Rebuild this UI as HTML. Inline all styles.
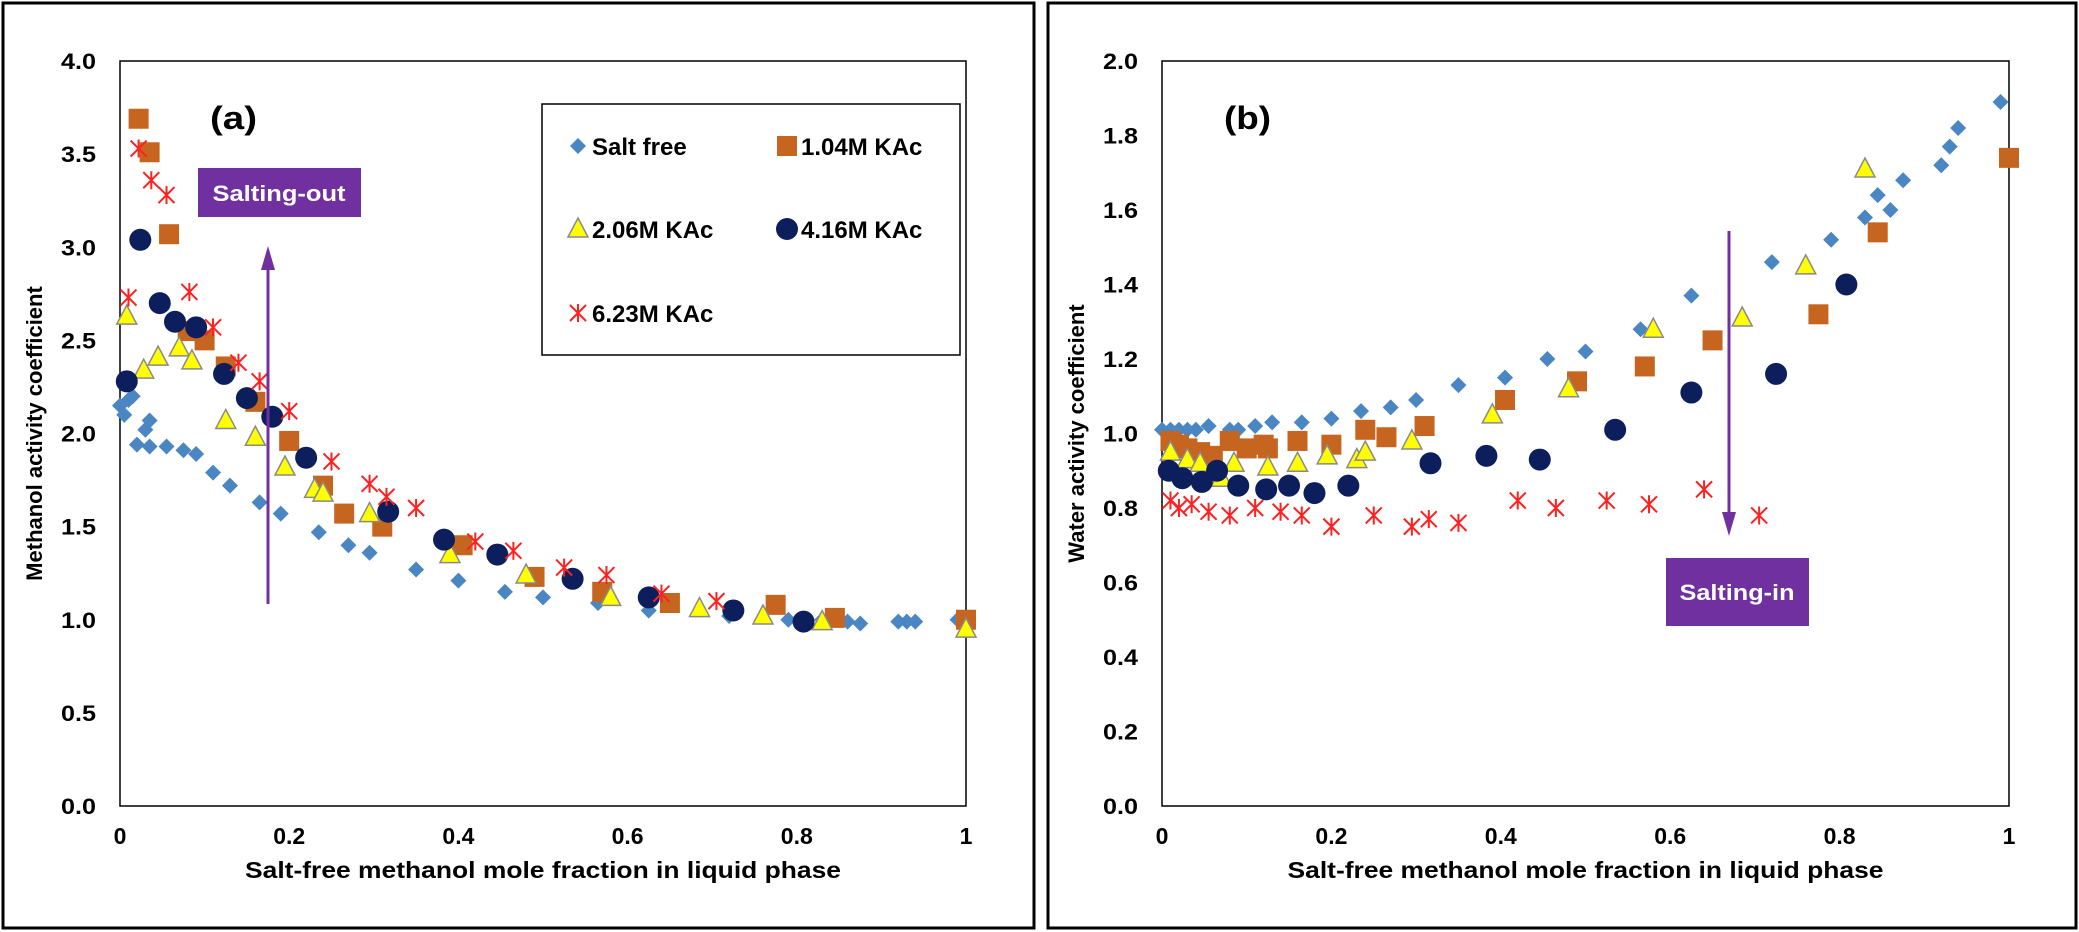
<!DOCTYPE html>
<html><head><meta charset="utf-8"><style>
html,body{margin:0;padding:0;background:#fff;}
svg{display:block;font-family:"Liberation Sans",Arial,sans-serif;font-weight:bold;}
</style></head><body>
<svg id="s" width="2079" height="932" viewBox="0 0 2079 932" xmlns="http://www.w3.org/2000/svg">
<rect x="3" y="3" width="1031" height="925" fill="none" stroke="#000" stroke-width="3"/>
<rect x="1048" y="3" width="1028" height="925" fill="none" stroke="#000" stroke-width="3"/>
<g id="g"></g>
</svg>
<script>
const NS="http://www.w3.org/2000/svg",g=document.getElementById('g');
function el(t,a,txt){const e=document.createElementNS(NS,t);for(const k in a)e.setAttribute(k,a[k]);if(txt!==undefined)e.textContent=txt;g.appendChild(e);return e;}
function marker(type,cx,cy){
 if(type==0){el('polygon',{points:`${cx},${cy-8} ${cx+8},${cy} ${cx},${cy+8} ${cx-8},${cy}`,fill:'#4a86c2'});}
 else if(type==1){el('rect',{x:cx-10,y:cy-10,width:20,height:20,fill:'#c5651f'});}
 else if(type==2){el('polygon',{points:`${cx},${cy-11} ${cx+10},${cy+8} ${cx-10},${cy+8}`,fill:'#ffff00',stroke:'#8a8a8a','stroke-width':1.5});}
 else if(type==3){el('circle',{cx:cx,cy:cy,r:11,fill:'#0c1f5c'});}
 else {const r=8;el('path',{d:`M${cx-r},${cy-r}L${cx+r},${cy+r}M${cx+r},${cy-r}L${cx-r},${cy+r}M${cx},${cy-r-1}L${cx},${cy+r+1}`,stroke:'#ff2020','stroke-width':2,fill:'none'});}
}
function panel(x0,x1,yt,yb,ymax,step,ylabel,tag,data){
 el('rect',{x:x0,y:yt,width:x1-x0,height:yb-yt,fill:'none',stroke:'#000','stroke-width':1.5});
 const n=Math.round(ymax/step);
 for(let i=0;i<=n;i++){const v=i*step,y=yb-(yb-yt)*v/ymax;el('text',{x:x0-24,y:y+8,'text-anchor':'end','font-size':22,textLength:35,lengthAdjust:'spacingAndGlyphs'},v.toFixed(1));}
 ['0','0.2','0.4','0.6','0.8','1'].forEach((t,i)=>{el('text',{x:x0+(x1-x0)*i/5,y:yb+38,'text-anchor':'middle','font-size':23},t);});
 el('text',{x:(x0+x1)/2,y:yb+72,'text-anchor':'middle','font-size':23,textLength:596,lengthAdjust:'spacingAndGlyphs'},'Salt-free methanol mole fraction in liquid phase');
 const cy=(yt+yb)/2;el('text',{x:x0-78,y:cy,'text-anchor':'middle','font-size':22,transform:`rotate(-90 ${x0-78} ${cy})`},ylabel);
 el('text',{x:x0+(tag=='(a)'?90:62),y:yt+68,'font-size':32,textLength:47,lengthAdjust:'spacingAndGlyphs'},tag);
 const X=v=>x0+(x1-x0)*v,Y=v=>yb-(yb-yt)*v/ymax;
 data.forEach((s,t)=>{for(let i=0;i<s.length;i+=2)marker(t,X(s[i]),Y(s[i+1]));});
}
const A=[
[0,2.15,0.005,2.1,0.01,2.18,0.015,2.2,0.02,1.94,0.03,2.02,0.035,2.07,0.035,1.93,0.055,1.93,0.075,1.91,0.09,1.89,0.11,1.79,0.13,1.72,0.165,1.63,0.19,1.57,0.235,1.47,0.27,1.4,0.295,1.36,0.35,1.27,0.4,1.21,0.455,1.15,0.5,1.12,0.565,1.09,0.625,1.05,0.72,1.02,0.79,1.0,0.83,1.0,0.86,0.99,0.875,0.98,0.92,0.99,0.93,0.99,0.94,0.99,0.99,1.0],
[0.022,3.69,0.035,3.51,0.058,3.07,0.08,2.55,0.1,2.5,0.125,2.36,0.16,2.17,0.2,1.96,0.24,1.72,0.265,1.57,0.31,1.5,0.405,1.4,0.49,1.23,0.57,1.15,0.65,1.09,0.775,1.08,0.845,1.01,1.0,1.0],
[0.008,2.63,0.028,2.34,0.045,2.41,0.07,2.46,0.085,2.39,0.125,2.07,0.16,1.98,0.195,1.82,0.23,1.7,0.24,1.68,0.295,1.57,0.39,1.35,0.48,1.24,0.58,1.12,0.685,1.06,0.76,1.02,0.83,0.99,1.0,0.95],
[0.008,2.28,0.024,3.04,0.047,2.7,0.065,2.6,0.09,2.57,0.123,2.32,0.15,2.19,0.18,2.09,0.22,1.87,0.317,1.58,0.383,1.43,0.446,1.35,0.535,1.22,0.625,1.12,0.725,1.05,0.808,0.99],
[0.01,2.73,0.022,3.53,0.037,3.36,0.055,3.28,0.082,2.76,0.11,2.57,0.14,2.38,0.165,2.28,0.2,2.12,0.25,1.85,0.295,1.73,0.315,1.66,0.35,1.6,0.42,1.42,0.465,1.37,0.525,1.28,0.575,1.24,0.64,1.14,0.705,1.1]];
const B=[
[0,1.01,0.01,1.01,0.02,1.01,0.03,1.01,0.04,1.01,0.055,1.02,0.08,1.01,0.09,1.01,0.11,1.02,0.13,1.03,0.165,1.03,0.2,1.04,0.235,1.06,0.27,1.07,0.3,1.09,0.35,1.13,0.405,1.15,0.455,1.2,0.5,1.22,0.565,1.28,0.625,1.37,0.72,1.46,0.79,1.52,0.83,1.58,0.845,1.64,0.86,1.6,0.875,1.68,0.92,1.72,0.93,1.77,0.94,1.82,0.99,1.89],
[0.01,0.98,0.02,0.97,0.03,0.96,0.045,0.95,0.06,0.94,0.08,0.98,0.1,0.96,0.12,0.97,0.125,0.96,0.16,0.98,0.2,0.97,0.24,1.01,0.265,0.99,0.31,1.02,0.405,1.09,0.49,1.14,0.57,1.18,0.65,1.25,0.775,1.32,0.845,1.54,1.0,1.74],
[0.01,0.95,0.03,0.93,0.045,0.92,0.07,0.88,0.085,0.92,0.125,0.91,0.16,0.92,0.195,0.94,0.23,0.93,0.24,0.95,0.295,0.98,0.39,1.05,0.48,1.12,0.58,1.28,0.685,1.31,0.76,1.45,0.83,1.71],
[0.008,0.9,0.024,0.88,0.047,0.87,0.065,0.9,0.09,0.86,0.123,0.85,0.15,0.86,0.18,0.84,0.22,0.86,0.317,0.92,0.383,0.94,0.446,0.93,0.535,1.01,0.625,1.11,0.725,1.16,0.808,1.4],
[0.01,0.82,0.02,0.8,0.035,0.81,0.055,0.79,0.08,0.78,0.11,0.8,0.14,0.79,0.165,0.78,0.2,0.75,0.25,0.78,0.295,0.75,0.315,0.77,0.35,0.76,0.42,0.82,0.465,0.8,0.525,0.82,0.575,0.81,0.64,0.85,0.705,0.78]];
panel(120,966,61,806,4,0.5,'Methanol activity coefficient','(a)',A);
panel(1162,2009,61,806,2,0.2,'Water activity coefficient','(b)',B);
// legend
el('rect',{x:542,y:104,width:418,height:251,fill:'#fff',stroke:'#000','stroke-width':1.5});
const L=[[0,578,146,'Salt free'],[1,787,146,'1.04M KAc'],[2,578,229,'2.06M KAc'],[3,787,229,'4.16M KAc'],[4,578,313,'6.23M KAc']];
L.forEach(l=>{marker(l[0],l[1],l[2]);el('text',{x:l[1]+14,y:l[2]+9,'font-size':24},l[3]);});
// salting-out
el('line',{x1:268,y1:604,x2:268,y2:262,stroke:'#7030a0','stroke-width':3});
el('polygon',{points:'268,246 261,270 275,270',fill:'#7030a0'});
el('rect',{x:198,y:168,width:163,height:49,fill:'#7030a0'});
el('text',{x:279,y:201,'text-anchor':'middle','font-size':22,fill:'#fff',textLength:133,lengthAdjust:'spacingAndGlyphs'},'Salting-out');
// salting-in
el('line',{x1:1729,y1:231,x2:1729,y2:520,stroke:'#7030a0','stroke-width':3});
el('polygon',{points:'1729,536 1722,512 1736,512',fill:'#7030a0'});
el('rect',{x:1666,y:558,width:143,height:68,fill:'#7030a0'});
el('text',{x:1737,y:600,'text-anchor':'middle','font-size':22,fill:'#fff',textLength:115,lengthAdjust:'spacingAndGlyphs'},'Salting-in');
</script>
</body></html>
